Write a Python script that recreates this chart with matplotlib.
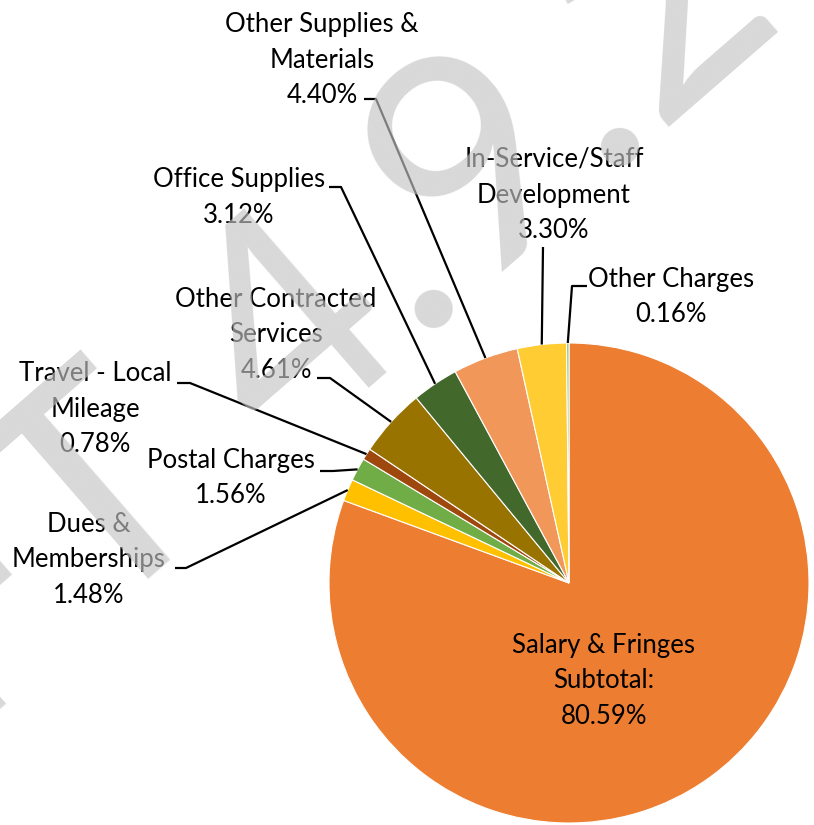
import numpy as np
import matplotlib.pyplot as plt

# budget shares (percent), clockwise from 12 o'clock
labels = ['Salary & Fringes\nSubtotal:', 'Dues &\nMemberships', 'Postal Charges',
          'Travel - Local\nMileage', 'Other Contracted\nServices', 'Office Supplies',
          'Other Supplies &\nMaterials', 'In-Service/Staff\nDevelopment', 'Other Charges']
shares = [80.59, 1.48, 1.56, 0.78, 4.61, 3.12, 4.40, 3.30, 0.16]
colors = ['#ED7D31', '#FFC000', '#70AD47', '#9E480E', '#997300',
          '#43682B', '#F1975A', '#FFCD33', '#8CC168']

W, H = 814, 825
CX, CY, R = 569, 583, 240

# label centre, elbow start, elbow end (pixel layout, y down)
layout = [
    ((604, 681), None, None),
    ((88.6, 560), (175, 568), (186, 568)),
    ((231, 478), (320, 471), (333, 471)),
    ((95, 409), (177, 383), (190, 383)),
    ((276, 335), (317, 378), (330, 378)),
    ((239, 197.5), (329, 187), (341, 187)),
    ((322, 60), (364, 99), (376, 99)),
    ((554, 195), (543, 247), (543, 247)),
    ((671, 297), (587, 286), (572, 286)),
]

plt.rcParams['font.family'] = ['Lato', 'DejaVu Sans']

fig = plt.figure(figsize=(W / 100, H / 100), dpi=100)
ax = fig.add_axes([0, 0, 1, 1])

wedges, _ = ax.pie(shares, colors=colors, startangle=-90, counterclock=True,
                   center=(CX, CY), radius=R,
                   wedgeprops=dict(edgecolor='white', linewidth=0.8))
ax.set_xlim(0, W)
ax.set_ylim(H, 0)
ax.set_aspect('equal')
ax.axis('off')

for w, lab, val, (pos, p0, p1) in zip(wedges, labels, shares, layout):
    txt = f'{lab}\n{val:.2f}%'
    ax.text(pos[0], pos[1], txt, ha='center', va='center', fontsize=18.5,
            linespacing=1.53, color='black')
    if p0 is None:
        continue
    mid = np.deg2rad((w.theta1 + w.theta2) / 2)
    ex, ey = CX + R * np.cos(mid), CY + R * np.sin(mid)
    ax.plot([p0[0], p1[0], ex], [p0[1], p1[1], ey], color='black', lw=1.6,
            solid_capstyle='butt', zorder=3)

# watermark
ax.text(-508, 1150, 'DRAFT 4.9.2019', fontsize=218, color='#C4C4C4', alpha=0.65,
        rotation=41.0, rotation_mode='anchor', ha='left', va='baseline',
        zorder=10, clip_on=False)

fig.savefig('out.png', dpi=100)
